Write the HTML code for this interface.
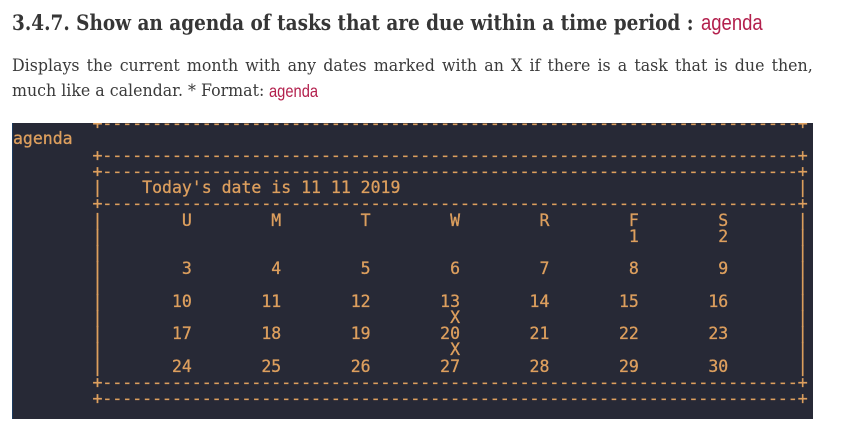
<!DOCTYPE html>
<html lang="en">
<head>
<meta charset="utf-8">
<title>Agenda command documentation</title>
<style>
html,body{margin:0;padding:0;background:#fff;}
body{position:relative;width:861px;height:435px;overflow:hidden;}
.doc{position:absolute;left:12px;white-space:nowrap;color:#3a3a3a;font-family:"DejaVu Serif","Liberation Serif",serif;transform-origin:0 0;}
#h{top:10px;font-size:21px;line-height:26px;font-weight:bold;color:#363636;transform:scaleX(.878);}
#l1{top:55px;width:861px;font-size:17px;line-height:22px;white-space:normal;text-align:justify;text-align-last:justify;transform:scaleX(.93);}
#l2{top:80px;font-size:17px;line-height:22px;transform:scaleX(.93);}
.code{position:absolute;color:#b3204d;font-family:"Liberation Sans",sans-serif;transform-origin:0 0;transform:scaleX(.84);white-space:nowrap;}
#term{position:absolute;left:12px;top:123px;width:801px;height:296px;background:#272936;overflow:hidden;border-left:1px solid #1b3b60;box-sizing:border-box;}
.r{position:absolute;left:0;height:16px;line-height:16px;white-space:pre;font-family:"DejaVu Sans Mono","Liberation Mono",monospace;font-size:16.5px;color:#dd9f5e;-webkit-text-stroke:.3px #dd9f5e;filter:blur(.3px);}
</style>
</head>
<body>
<div class="doc" id="h">3.4.7. Show an agenda of tasks that are due within a time period :</div>
<div class="code" style="left:701px;top:10px;font-size:22px;line-height:26px;">agenda</div>
<div class="doc" id="l1">Displays the current month with any dates marked with an X if there is a task that is due then,</div>
<div class="doc" id="l2">much like a calendar. * Format:</div>
<div class="code" style="left:269px;top:80px;font-size:17.5px;line-height:22px;">agenda</div>
<div id="term">
<div class="r" style="top:-7px">        +----------------------------------------------------------------------+</div>
<div class="r" style="top:8px">agenda</div>
<div class="r" style="top:25px">        +----------------------------------------------------------------------+</div>
<div class="r" style="top:41px">        +----------------------------------------------------------------------+</div>
<div class="r" style="top:57px">        |    Today's date is 11 11 2019                                        |</div>
<div class="r" style="top:73px">        +----------------------------------------------------------------------+</div>
<div class="r" style="top:90px">        |        U        M        T        W        R        F        S       |</div>
<div class="r" style="top:106px">        |                                                     1        2       |</div>
<div class="r" style="top:122px">        |                                                                      |</div>
<div class="r" style="top:138px">        |        3        4        5        6        7        8        9       |</div>
<div class="r" style="top:155px">        |                                                                      |</div>
<div class="r" style="top:171px">        |       10       11       12       13       14       15       16       |</div>
<div class="r" style="top:187px">        |                                   X                                  |</div>
<div class="r" style="top:203px">        |       17       18       19       20       21       22       23       |</div>
<div class="r" style="top:219px">        |                                   X                                  |</div>
<div class="r" style="top:236px">        |       24       25       26       27       28       29       30       |</div>
<div class="r" style="top:252px">        +----------------------------------------------------------------------+</div>
<div class="r" style="top:268px">        +----------------------------------------------------------------------+</div>
</div>
</body>
</html>
